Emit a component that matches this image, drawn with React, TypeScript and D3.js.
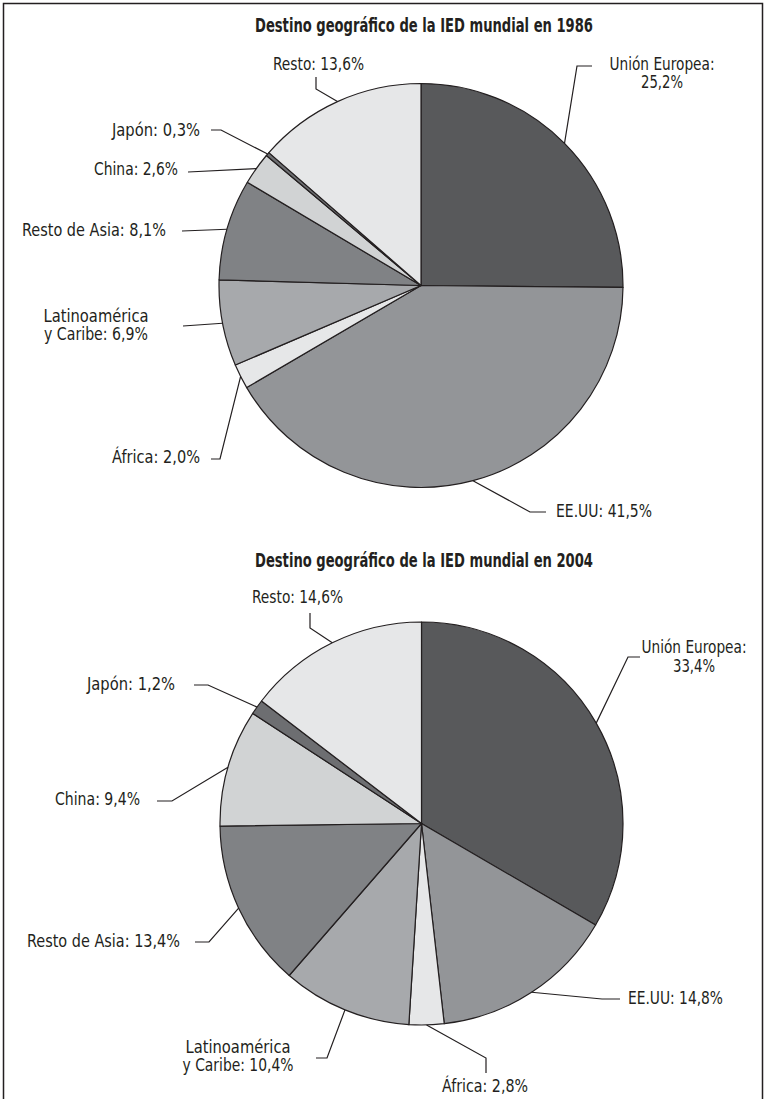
import React from "react";
import * as d3 from "d3";

// ---- Data ----
const categories = [
  "Unión Europea",
  "EE.UU",
  "África",
  "Latinoamérica y Caribe",
  "Resto de Asia",
  "China",
  "Japón",
  "Resto",
];
const values1986 = [25.2, 41.5, 2.0, 6.9, 8.1, 2.6, 0.3, 13.6];
const values2004 = [33.4, 14.8, 2.8, 10.4, 13.4, 9.4, 1.2, 14.6];
const titles = [
  "Destino geográfico de la IED mundial en 1986",
  "Destino geográfico de la IED mundial en 2004",
];

// ---- Styles ----
const sliceColors = ["#58595b", "#939598", "#e6e7e8", "#a7a9ac", "#808285", "#d1d3d4", "#6d6e71", "#e6e7e8"];
const ink = "#231f20";
const FONT = "'Liberation Sans Narrow', 'DejaVu Sans Condensed', 'Roboto Condensed', 'Liberation Sans', Arial, sans-serif";

// ---- Layout (label placement) ----
type LabelLayout = {
  elbow?: [number, number];
  end: [number, number];
  x: number;
  ys: number[];
  anchor: "start" | "middle" | "end";
  widths: number[];
};

const layout1986: LabelLayout[] = [
  { elbow: [577, 66], end: [592, 66], x: 662, ys: [70, 88], anchor: "middle", widths: [105, 42] },
  { elbow: [530, 512], end: [546, 512], x: 556, ys: [517], anchor: "start", widths: [96] },
  { elbow: [220, 459], end: [211, 459], x: 200, ys: [463], anchor: "end", widths: [88] },
  { end: [183, 326], x: 96, ys: [322, 340], anchor: "middle", widths: [105, 104] },
  { end: [182, 231], x: 166, ys: [236], anchor: "end", widths: [144] },
  { end: [188, 172], x: 178, ys: [175], anchor: "end", widths: [84] },
  { elbow: [221, 130], end: [211, 130], x: 200, ys: [136], anchor: "end", widths: [88] },
  { elbow: [316, 89], end: [316, 77], x: 273, ys: [70], anchor: "start", widths: [91] },
];

const layout2004: LabelLayout[] = [
  { elbow: [628, 657], end: [640, 657], x: 694, ys: [653, 672], anchor: "middle", widths: [105, 42] },
  { elbow: [602, 999], end: [620, 999], x: 628, ys: [1004], anchor: "start", widths: [95] },
  { elbow: [486, 1058], end: [486, 1073], x: 442, ys: [1092], anchor: "start", widths: [86] },
  { elbow: [327, 1058], end: [316, 1058], x: 238, ys: [1053, 1071], anchor: "middle", widths: [105, 111] },
  { elbow: [209, 942], end: [195, 942], x: 180, ys: [947], anchor: "end", widths: [153] },
  { elbow: [172, 801], end: [157, 801], x: 140, ys: [805], anchor: "end", widths: [85] },
  { elbow: [208, 685], end: [194, 685], x: 175, ys: [690], anchor: "end", widths: [88] },
  { elbow: [310, 628], end: [310, 613], x: 252, ys: [603], anchor: "start", widths: [91] },
];

const charts = [
  { title: titles[0], values: values1986, cx: 421, cy: 285.5, r: 202, titleY: 32, layout: layout1986 },
  { title: titles[1], values: values2004, cx: 421.5, cy: 823.5, r: 201.5, titleY: 567, layout: layout2004 },
];

const fmt = (v: number) => v.toFixed(1).replace(".", ",") + "%";

function labelLines(i: number, v: number): string[] {
  const name = categories[i];
  if (name === "Unión Europea") return [name + ":", fmt(v)];
  if (name === "Latinoamérica y Caribe") return ["Latinoamérica", "y Caribe: " + fmt(v)];
  return [name + ": " + fmt(v)];
}

function PieChart({ chart }: { chart: (typeof charts)[number] }) {
  const pie = d3
    .pie<number>()
    .sort(null)
    .value((d) => d)
    .startAngle(0)
    .endAngle(2 * Math.PI);
  const slices = pie(chart.values);
  const arc = d3.arc<d3.PieArcDatum<number>>().innerRadius(0).outerRadius(chart.r);
  const rim = d3.arc<d3.PieArcDatum<number>>().innerRadius(chart.r).outerRadius(chart.r);
  const line = d3.line();

  return (
    <g>
      <text
        x={424}
        y={chart.titleY}
        textAnchor="middle"
        fontFamily={FONT}
        fontWeight="bold"
        fontSize={19}
        fill={ink}
        textLength={338}
        lengthAdjust="spacingAndGlyphs"
      >
        {chart.title}
      </text>
      <g transform={`translate(${chart.cx},${chart.cy})`}>
        {slices.map((s, i) => (
          <path key={i} d={arc(s) || ""} fill={sliceColors[i]} stroke={ink} strokeWidth={1.2} strokeLinejoin="round" />
        ))}
      </g>
      {slices.map((s, i) => {
        const L = chart.layout[i];
        const [px, py] = rim.centroid(s);
        const start: [number, number] = [chart.cx + px, chart.cy + py];
        const pts: [number, number][] = L.elbow ? [start, L.elbow, L.end] : [start, L.end];
        const lines = labelLines(i, s.data);
        return (
          <g key={"l" + i}>
            <path d={line(pts) || ""} fill="none" stroke={ink} strokeWidth={1.2} />
            {lines.map((t, j) => (
              <text
                key={j}
                x={L.x}
                y={L.ys[j]}
                textAnchor={L.anchor}
                fontFamily={FONT}
                fontSize={17.5}
                fill={ink}
                textLength={L.widths[j]}
                lengthAdjust="spacingAndGlyphs"
              >
                {t}
              </text>
            ))}
          </g>
        );
      })}
    </g>
  );
}

export default function App() {
  return (
    <svg
      width={765}
      height={1099}
      style={{ position: "absolute", left: 0, top: 0, background: "#ffffff" }}
    >
      <rect x={0} y={0} width={765} height={1099} fill="#ffffff" />
      <path d="M3.5,1110 V3.5 H762.5 V1110" fill="none" stroke={ink} strokeWidth={1.5} />
      {charts.map((c, i) => (
        <PieChart key={i} chart={c} />
      ))}
    </svg>
  );
}
